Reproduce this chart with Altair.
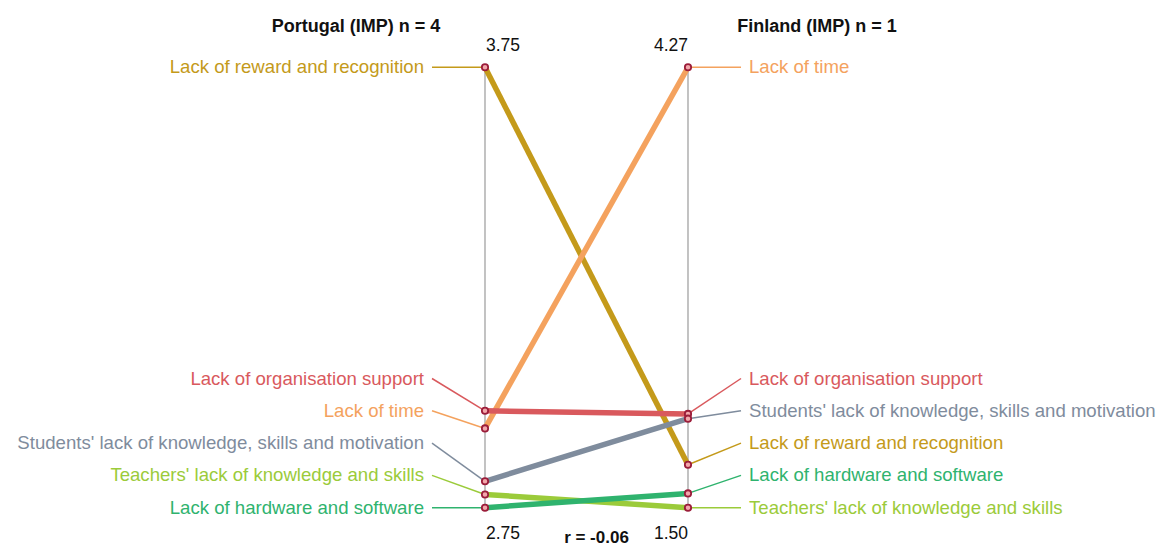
import altair as alt
import pandas as pd

# ---------------- data ----------------
categories = [
    "Lack of reward and recognition",
    "Lack of time",
    "Lack of organisation support",
    "Students' lack of knowledge, skills and motivation",
    "Teachers' lack of knowledge and skills",
    "Lack of hardware and software",
]
portugal = [3.75, 2.93, 2.97, 2.81, 2.78, 2.75]
finland = [1.77, 4.27, 2.09, 2.06, 1.50, 1.59]
colors = ["#C49A1A", "#F4A25E", "#D9595D", "#7F8C9D", "#9BCB3A", "#2FB36E"]
countries = ["Portugal (IMP)", "Finland (IMP)"]
sample_sizes = [4, 1]
r_value = -0.06

rows = []
for side, vals in enumerate([portugal, finland]):
    for c, v in zip(categories, vals):
        rows.append({"category": c, "side": side, "value": v})
df = pd.DataFrame(rows)

titles_df = pd.DataFrame({
    "side": [0, 1],
    "title": [f"{c} n = {n}" for c, n in zip(countries, sample_sizes)],
})
r_df = pd.DataFrame({"rt": [f"r = {r_value:.2f}"]})

# ---------------- layout ----------------
FONT = "Liberation Sans"
W, H = 1154, 539
XPX = 203.0            # pixels between the two axes
LEFT_AXIS = 485 - 8    # left axis position inside the view
YPX = 440.4            # pixels from min to max on each axis
TOP = 67.3 - 8
x_dom = [-LEFT_AXIS / XPX, (W - LEFT_AXIS) / XPX]
y_top = 1 + TOP / YPX
y_dom = [y_top - H / YPX, y_top]
GAP = 32.3 / YPX       # minimum label spacing
LEAD = 53 / XPX        # leader line length
TITLE_OFF = 129 / XPX
LABEL_SIZE = 18.6

xs = alt.Scale(domain=x_dom)
ys = alt.Scale(domain=y_dom)
col = alt.Color("category:N", scale=alt.Scale(domain=categories, range=colors), legend=None)

base = (
    alt.Chart(df)
    .transform_joinaggregate(vmin="min(value)", vmax="max(value)", groupby=["side"])
    .transform_calculate(norm="(datum.value - datum.vmin) / (datum.vmax - datum.vmin)")
    .transform_window(rank="row_number()", sort=[alt.SortField("value", order="ascending")],
                      groupby=["side"])
    .transform_calculate(
        lab=f"max(datum.norm, (datum.rank - 1) * {GAP})",
        xlab=f"datum.side == 0 ? {-LEAD} : {1 + LEAD}",
        vtxt="format(datum.value, '.2f')",
    )
)

X = alt.X("side:Q", scale=xs, axis=None)
Y = alt.Y("norm:Q", scale=ys, axis=None)

axes = base.transform_aggregate(lo="min(norm)", hi="max(norm)", groupby=["side"]).mark_rule(
    color="#9a9a9a", strokeWidth=1.2
).encode(x=X, y=alt.Y("lo:Q", scale=ys, axis=None), y2="hi:Q")

slopes = base.mark_line(strokeWidth=5.5).encode(x=X, y=Y, color=col, detail="category:N")

leaders = base.mark_rule(strokeWidth=1.5).encode(
    x=X, y=Y, x2="xlab:Q", y2="lab:Q", color=col
)

points = base.mark_circle(size=40, fill="#f2a7ab", stroke="#9b1d3a", strokeWidth=1.8, opacity=1).encode(
    x=X, y=Y
)

left_labels = base.transform_filter("datum.side == 0").mark_text(
    align="right", baseline="middle", dx=-8, fontSize=LABEL_SIZE, font=FONT
).encode(x=alt.X("xlab:Q", scale=xs, axis=None), y=alt.Y("lab:Q", scale=ys, axis=None),
         text="category:N", color=col)

right_labels = base.transform_filter("datum.side == 1").mark_text(
    align="left", baseline="middle", dx=8, fontSize=LABEL_SIZE, font=FONT
).encode(x=alt.X("xlab:Q", scale=xs, axis=None), y=alt.Y("lab:Q", scale=ys, axis=None),
         text="category:N", color=col)


def value_label(side, top):
    cond = f"datum.side == {side} && datum.norm == {1 if top else 0}"
    return base.transform_filter(cond).mark_text(
        align="left" if side == 0 else "right",
        baseline="middle",
        dx=1 if side == 0 else 0,
        dy=-21 if top else 26,
        fontSize=17.5,
        font=FONT,
        color="#111111",
    ).encode(x=X, y=Y, text="vtxt:N")


values = [value_label(s, t) for s in (0, 1) for t in (True, False)]

titles = alt.Chart(titles_df).transform_calculate(
    tx=f"datum.side == 0 ? {-TITLE_OFF} : {1 + TITLE_OFF}"
).mark_text(
    align="center", baseline="middle", dy=-40.5, fontSize=18, fontWeight="bold", font=FONT, color="#111111"
).encode(x=alt.X("tx:Q", scale=xs, axis=None), y=alt.YDatum(1, scale=ys, axis=None), text="title:N")

rtext = alt.Chart(r_df).mark_text(
    align="center", baseline="middle", dx=10, dy=30, fontSize=17, fontWeight="bold", font=FONT, color="#111111"
).encode(x=alt.XDatum(0.5, scale=xs, axis=None), y=alt.YDatum(0, scale=ys, axis=None), text="rt:N")

chart = alt.layer(
    axes, slopes, leaders, points, left_labels, right_labels, *values, titles, rtext
).properties(
    width=W, height=H, padding=0, autosize="none"
).configure_view(stroke=None)

chart.save("out.html", embed_options={"renderer": "svg", "actions": False})
